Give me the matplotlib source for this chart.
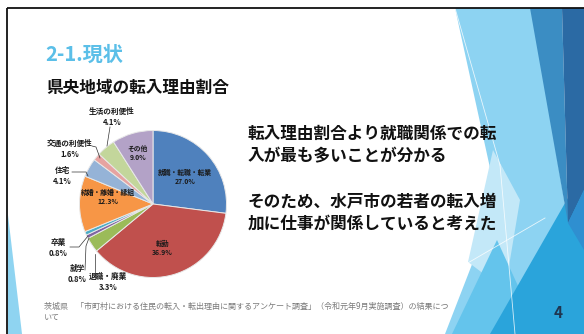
import matplotlib
matplotlib.use("Agg")
import matplotlib.pyplot as plt
from matplotlib.patches import Polygon, Rectangle

plt.rcParams['font.family'] = ['Noto Sans CJK JP', 'DejaVu Sans']

# 転入理由の内訳（%）
reasons = ['就職・転職・転業', '転勤', '退職・廃業', '就学', '卒業',
           '結婚・離婚・縁組', '住宅', '交通の利便性', '生活の利便性', 'その他']
shares = [27.0, 36.9, 3.3, 0.8, 0.8, 12.3, 4.1, 1.6, 4.1, 9.0]
slice_colors = ['#4f81bd', '#c0504d', '#9bbb59', '#8064a2', '#4bacc6',
                '#f79646', '#95b3d7', '#e6a3a1', '#c3d69b', '#b3a2c7']

title = '2-1.現状'
subtitle = '県央地域の転入理由割合'
notes = ['転入理由割合より就職関係での転', '入が最も多いことが分かる', '',
         'そのため、水戸市の若者の転入増', '加に仕事が関係していると考えた']
source = ('茨城県　「市町村における住民の転入・転出理由に関するアンケート調査」'
          '（令和元年9月実施調査）の結果につ\nいて')
page_no = '4'

W, H = 584, 334
fig = plt.figure(figsize=(W / 100, H / 100), dpi=100)

# 背景レイヤー（ピクセル座標）
bg = fig.add_axes([0, 0, 1, 1])
bg.set_xlim(0, W)
bg.set_ylim(H, 0)
bg.axis('off')

# スライド枠
bg.add_patch(Rectangle((7, 8), 600, 340, fill=False, ec='#111111', lw=1.3, zorder=5))

# 左下の三角
bg.add_patch(Polygon([(8, 215), (8, 334), (22, 334)], color='#8fd4f1', lw=0))

# 右側の装飾（Facet風）
shapes = [
    ([(455, 8), (532, 8), (568, 223), (530, 334), (445, 334), (497, 200)], '#8dd3f2'),
    ([(493, 150), (520, 200), (505, 290), (468, 262)], '#c3e8f8'),
    ([(497, 240), (540, 334), (452, 334)], '#64c4ec'),
    ([(584, 170), (584, 334), (490, 334)], '#2aa4db'),
    ([(530, 8), (562, 8), (568, 223)], '#3b8dc3'),
    ([(562, 8), (584, 8), (584, 190), (568, 223)], '#2b6aa4'),
    ([(568, 223), (584, 190), (584, 250)], '#2f8fd0'),
]
for pts, col in shapes:
    bg.add_patch(Polygon(pts, color=col, lw=0))
bg.plot([430, 545], [285, 218], color='white', lw=0.6, alpha=0.8)
bg.plot([500, 515], [165, 334], color='white', lw=0.6, alpha=0.8)
bg.plot([455, 500], [8, 165], color='white', lw=0.6, alpha=0.8)

# 見出し
bg.text(45, 54, title, color='#5bbfe8', fontsize=14.5, fontweight='bold', va='center')
bg.text(46, 88, subtitle, color='#111111', fontsize=12, fontweight='bold', va='center')

# 右側の説明文
for i, line in enumerate(notes):
    bg.text(248, 134 + 22.5 * i, line, color='#111111', fontsize=12,
            fontweight='bold', va='center')

# 出典とページ番号
bg.text(44, 312, source, color='#7a7a7a', fontsize=5.8, va='center', linespacing=1.3)
bg.text(558, 313, page_no, color='#1f3550', fontsize=11, fontweight='bold',
        ha='center', va='center')

# 円グラフ
cx, cy, r = 153, 204, 73.5
pie = fig.add_axes([(cx - r) / W, (H - cy - r) / H, 2 * r / W, 2 * r / H])
pie.pie(shares, colors=slice_colors, startangle=90, counterclock=False,
        wedgeprops=dict(edgecolor='#e8e8e8', linewidth=0.7))
pie.set_xlim(-1, 1)
pie.set_ylim(-1, 1)
pie.axis('off')


def to_pie(x, y):
    return (x - cx) / r, (cy - y) / r


# ラベル位置（ピクセル）と引き出し線
inside = {0: (185, 177), 1: (162, 248), 5: (108, 197), 9: (138, 153)}
outside = {8: (112, 117), 7: (70, 149), 6: (62, 176), 4: (58, 248),
           3: (77, 274), 2: (108, 282)}
leaders = {
    8: [(110, 127), (107, 146)],
    7: [(92, 146), (96, 147), (100, 158)],
    6: [(72, 172), (86, 172), (88, 176)],
    4: [(70, 247), (79, 247), (88, 236)],
    3: [(85, 270), (86, 246), (89, 238)],
    2: [(95, 276), (95, 254)],
}
for i, pts in leaders.items():
    xs, ys = zip(*[to_pie(*p) for p in pts])
    pie.plot(xs, ys, color='#333333', lw=0.5, clip_on=False)

for pos, size in ((inside, 4.9), (outside, 5.5)):
    for i, (px, py) in pos.items():
        x, y = to_pie(px, py)
        pie.text(x, y, f'{reasons[i]}\n{shares[i]:.1f}%', ha='center', va='center',
                 fontsize=size, fontweight='bold', color='#1a1a1a', linespacing=1.4,
                 clip_on=False)

fig.savefig('out.png', dpi=100)
